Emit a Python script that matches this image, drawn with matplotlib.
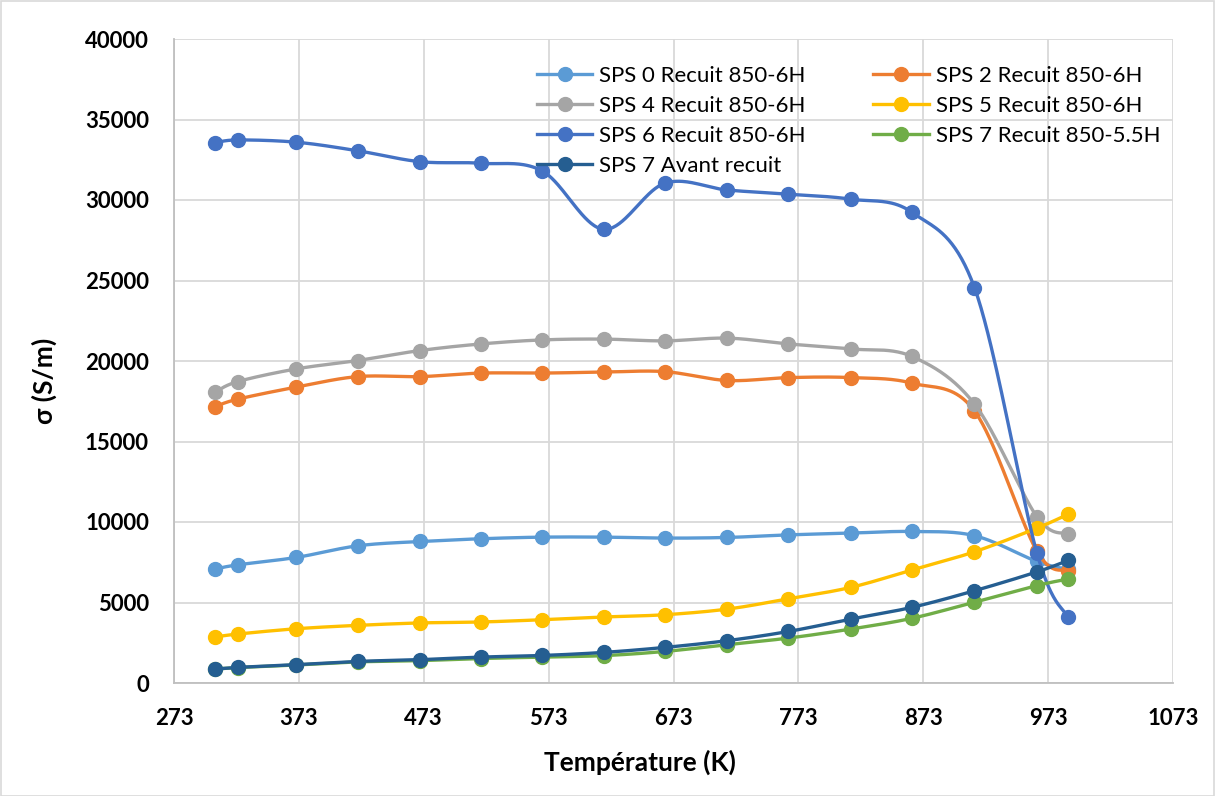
import numpy as np
import matplotlib
matplotlib.use("Agg")
import matplotlib.pyplot as plt
from matplotlib.patches import Rectangle

plt.rcParams['font.family'] = ['Lato', 'DejaVu Sans']

# ---------------- data ----------------
temperature = [306, 324, 371, 420, 470, 519, 568, 617, 666, 716, 765, 815, 864, 914, 964, 989]

sps0 = [7080, 7340, 7800, 8520, 8790, 8960, 9060, 9060, 9000, 9040, 9200, 9310, 9410, 9150, 7550, 7050]
sps2 = [17170, 17630, 18380, 19030, 19030, 19250, 19250, 19310, 19340, 18790, 18970, 18970, 18620, 16900, 8190, 6970]
sps4 = [18070, 18720, 19510, 20030, 20650, 21060, 21310, 21360, 21250, 21420, 21060, 20750, 20280, 17330, 10330, 9260]
sps5 = [2860, 3040, 3370, 3580, 3730, 3790, 3930, 4100, 4240, 4590, 5230, 5940, 7020, 8150, 9620, 10480]
sps6 = [33560, 33730, 33590, 33060, 32380, 32280, 31800, 28180, 31040, 30620, 30360, 30050, 29230, 24560, 8080, 4080]
sps7_55 = [870, 960, 1120, 1310, 1390, 1520, 1610, 1700, 1960, 2380, 2790, 3350, 4020, 5020, 6050, 6460]
sps7_avant = [870, 970, 1140, 1340, 1450, 1610, 1710, 1900, 2210, 2630, 3200, 3970, 4700, 5730, 6900, 7610]

labels = ["SPS 0 Recuit 850-6H", "SPS 2 Recuit 850-6H", "SPS 4 Recuit 850-6H",
          "SPS 5 Recuit 850-6H", "SPS 6 Recuit 850-6H", "SPS 7 Recuit 850-5.5H",
          "SPS 7 Avant recuit"]
colors = ["#5B9BD5", "#ED7D31", "#A5A5A5", "#FFC000", "#4472C4", "#70AD47", "#255E91"]
series = [sps0, sps2, sps4, sps5, sps6, sps7_55, sps7_avant]

x_ticks = [273, 373, 473, 573, 673, 773, 873, 973, 1073]
y_ticks = [0, 5000, 10000, 15000, 20000, 25000, 30000, 35000, 40000]

# ---------------- smoothing (Excel-like bezier) ----------------
def smooth(xs, ys, sx, sy, n=40, t=1/6):
    P = np.column_stack([np.asarray(xs, float) * sx, np.asarray(ys, float) * sy])
    out = [P[0]]
    m = len(P)
    for i in range(m - 1):
        p0 = P[i - 1] if i > 0 else P[i]
        p1 = P[i]
        p2 = P[i + 1]
        p3 = P[i + 2] if i + 2 < m else P[i + 1]
        c1 = p1 + (p2 - p0) * t
        c2 = p2 - (p3 - p1) * t
        u = np.linspace(0, 1, n)[1:, None]
        seg = ((1 - u) ** 3) * p1 + 3 * ((1 - u) ** 2) * u * c1 + 3 * (1 - u) * u ** 2 * c2 + u ** 3 * p2
        out.extend(seg)
    out = np.array(out)
    return out[:, 0] / sx, out[:, 1] / sy

# ---------------- figure ----------------
W, H = 1215, 796
fig = plt.figure(figsize=(W / 100, H / 100), dpi=100)
L, R, T, B = 174, 1173, 39, 683
ax = fig.add_axes([L / W, 1 - B / H, (R - L) / W, (B - T) / H])

sx = (R - L) / 800.0
sy = (B - T) / 40000.0

handles = []
for ys, c, lab in zip(series, colors, labels):
    xs_s, ys_s = smooth(temperature, ys, sx, sy)
    ax.plot(xs_s, ys_s, color=c, lw=2.4, solid_capstyle='round', zorder=3)
    ax.plot(temperature, ys, linestyle='none', marker='o', ms=10, color=c, zorder=3)
    h, = ax.plot([], [], color=c, lw=2.4, marker='o', ms=10, label=lab)
    handles.append(h)

ax.set_xlim(273, 1073)
ax.set_ylim(0, 40000)
ax.set_xticks(x_ticks)
ax.set_yticks(y_ticks)
ax.set_xticklabels([str(v) for v in x_ticks], fontweight='bold', fontsize=16)
ax.set_yticklabels([str(v) for v in y_ticks], fontweight='bold', fontsize=16)
ax.tick_params(axis='both', length=0)
ax.tick_params(axis='x', pad=18)
ax.tick_params(axis='y', pad=18)
ax.grid(True, color='#D9D9D9', lw=1.3)
ax.set_axisbelow(True)
for s in ['top', 'right']:
    ax.spines[s].set_visible(False)
for s in ['left', 'bottom']:
    ax.spines[s].set_color('#BFBFBF')
    ax.spines[s].set_linewidth(1.3)

ax.set_xlabel("Température (K)", fontsize=19, fontweight='bold')
ax.xaxis.set_label_coords((640 - L) / (R - L), -(762 - B) / (B - T))
ax.set_ylabel("σ (S/m)", fontsize=19, fontweight='bold')
ax.yaxis.set_label_coords(-(L - 44) / (R - L), 1 - (381 - T) / (B - T))
ax.xaxis.label.set_va('center')
ax.yaxis.label.set_va('center')

order = [0, 2, 4, 6, 1, 3, 5]
leg = ax.legend([handles[i] for i in order], [labels[i] for i in order],
                ncol=2, loc='upper left', bbox_to_anchor=((528 - L) / (R - L), 1 - (57 - T) / (B - T)),
                frameon=False, fontsize=16, handlelength=2.5, columnspacing=3.05,
                labelspacing=0.45, handletextpad=0.3, borderaxespad=0)

fig.patches.append(Rectangle((0.5 / W, 0.5 / H), 1 - 1.5 / W, 1 - 1.5 / H, transform=fig.transFigure,
                             fill=False, edgecolor='#D9D9D9', lw=1.2))

fig.savefig("out.png", dpi=100, facecolor='white')
